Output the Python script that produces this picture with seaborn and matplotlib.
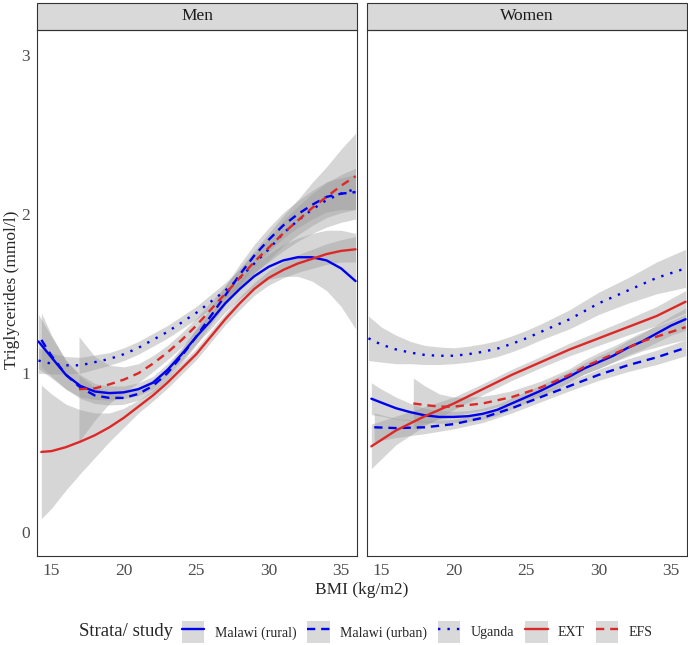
#!/usr/bin/env python
# coding: utf-8

import numpy as np
import pandas as pd
import matplotlib
matplotlib.use("Agg")
import matplotlib.pyplot as plt
import seaborn as sns
from matplotlib.patches import Patch, Rectangle
from matplotlib.lines import Line2D

# =============================================================================
# DATA — smoothed triglyceride curves (x = BMI, y = TG,
# hw = half-width of the grey confidence band)
# =============================================================================
STUDIES = ["Malawi (rural)", "Malawi (urban)", "Uganda", "EXT", "EFS"]
PANELS  = ["Men", "Women"]

# ---- Men --------------------------------------------------------------------
men_rural_x  = [14.1, 15, 16, 17, 18, 19, 20, 21, 22, 23, 24, 25, 26, 27, 28, 29, 30, 31, 32, 33, 34, 35, 36]
men_rural_y  = [1.20, 1.10, 0.99, 0.92, 0.885, 0.875, 0.88, 0.90, 0.94, 1.02, 1.12, 1.23, 1.33, 1.44, 1.53, 1.61, 1.67, 1.71, 1.73, 1.73, 1.71, 1.66, 1.58]
men_rural_hw = [0.17, 0.13, 0.09, 0.07, 0.05, 0.045, 0.04, 0.04, 0.04, 0.04, 0.04, 0.045, 0.05, 0.055, 0.06, 0.07, 0.08, 0.10, 0.12, 0.15, 0.19, 0.24, 0.30]

men_urban_x  = [14.3, 15, 16, 17, 18, 19, 20, 21, 22, 23, 24, 25, 26, 27, 28, 29, 30, 31, 32, 33, 34, 35, 36]
men_urban_y  = [1.21, 1.11, 0.99, 0.91, 0.86, 0.845, 0.845, 0.87, 0.92, 1.00, 1.11, 1.23, 1.36, 1.49, 1.62, 1.74, 1.84, 1.93, 2.00, 2.06, 2.11, 2.13, 2.14]
men_urban_hw = [0.17, 0.13, 0.09, 0.07, 0.05, 0.045, 0.04, 0.04, 0.04, 0.04, 0.045, 0.05, 0.055, 0.06, 0.065, 0.07, 0.075, 0.08, 0.085, 0.09, 0.095, 0.10, 0.11]

men_uganda_x  = [14.1, 15, 16, 17, 18, 19, 20, 21, 22, 23, 24, 25, 26, 27, 28, 29, 30, 31, 32, 33, 34, 35, 36]
men_uganda_y  = [1.08, 1.06, 1.05, 1.05, 1.07, 1.09, 1.12, 1.16, 1.21, 1.26, 1.32, 1.38, 1.45, 1.52, 1.60, 1.69, 1.78, 1.88, 1.96, 2.03, 2.09, 2.13, 2.16]
men_uganda_hw = [0.08, 0.065, 0.055, 0.05, 0.045, 0.04, 0.04, 0.04, 0.04, 0.04, 0.04, 0.04, 0.045, 0.05, 0.055, 0.06, 0.07, 0.08, 0.09, 0.10, 0.11, 0.12, 0.13]

men_ext_x  = [14.3, 15, 16, 17, 18, 19, 20, 21, 22, 23, 24, 25, 26, 27, 28, 29, 30, 31, 32, 33, 34, 35, 36]
men_ext_y  = [0.505, 0.51, 0.535, 0.57, 0.61, 0.66, 0.72, 0.79, 0.86, 0.94, 1.03, 1.12, 1.23, 1.34, 1.44, 1.53, 1.60, 1.65, 1.69, 1.72, 1.75, 1.77, 1.78]
men_ext_hw = [0.42, 0.36, 0.27, 0.20, 0.14, 0.09, 0.06, 0.04, 0.035, 0.035, 0.035, 0.035, 0.035, 0.035, 0.04, 0.04, 0.045, 0.05, 0.055, 0.06, 0.065, 0.07, 0.08]

men_efs_x  = [16.9, 18, 19, 20, 21, 22, 23, 24, 25, 26, 27, 28, 29, 30, 31, 32, 33, 34, 35, 36]
men_efs_y  = [0.90, 0.905, 0.93, 0.96, 1.00, 1.06, 1.13, 1.21, 1.30, 1.40, 1.50, 1.60, 1.70, 1.79, 1.88, 1.96, 2.04, 2.11, 2.18, 2.24]
men_efs_hw = [0.33, 0.20, 0.12, 0.08, 0.06, 0.05, 0.045, 0.045, 0.045, 0.05, 0.05, 0.06, 0.07, 0.09, 0.11, 0.13, 0.16, 0.19, 0.23, 0.27]

# ---- Women ------------------------------------------------------------------
wom_rural_x  = [14.3, 15, 16, 17, 18, 19, 20, 21, 22, 23, 24, 25, 26, 27, 28, 29, 30, 31, 32, 33, 34, 35, 36]
wom_rural_y  = [0.84, 0.815, 0.78, 0.755, 0.735, 0.725, 0.725, 0.73, 0.745, 0.77, 0.81, 0.85, 0.89, 0.935, 0.98, 1.03, 1.07, 1.11, 1.16, 1.20, 1.25, 1.30, 1.34]
wom_rural_hw = [0.10, 0.085, 0.07, 0.055, 0.045, 0.04, 0.035, 0.035, 0.035, 0.035, 0.035, 0.035, 0.035, 0.035, 0.035, 0.035, 0.04, 0.04, 0.045, 0.05, 0.055, 0.06, 0.07]

wom_urban_x  = [14.5, 16, 18, 20, 22, 24, 26, 28, 30, 32, 34, 36]
wom_urban_y  = [0.66, 0.655, 0.66, 0.68, 0.72, 0.78, 0.85, 0.92, 0.99, 1.05, 1.10, 1.16]
wom_urban_hw = [0.09, 0.06, 0.04, 0.03, 0.03, 0.03, 0.03, 0.03, 0.035, 0.04, 0.045, 0.05]

wom_uganda_x  = [14.1, 15, 16, 17, 18, 19, 20, 21, 22, 23, 24, 25, 26, 27, 28, 29, 30, 31, 32, 33, 34, 35, 36]
wom_uganda_y  = [1.22, 1.18, 1.15, 1.13, 1.115, 1.11, 1.11, 1.12, 1.135, 1.155, 1.185, 1.22, 1.26, 1.30, 1.34, 1.39, 1.44, 1.48, 1.52, 1.56, 1.60, 1.63, 1.66]
wom_uganda_hw = [0.14, 0.11, 0.09, 0.07, 0.06, 0.055, 0.05, 0.05, 0.05, 0.05, 0.05, 0.05, 0.05, 0.055, 0.06, 0.065, 0.07, 0.075, 0.08, 0.09, 0.10, 0.11, 0.12]

wom_ext_x  = [14.3, 16, 18, 20, 22, 24, 26, 28, 30, 32, 34, 36]
wom_ext_y  = [0.54, 0.64, 0.73, 0.81, 0.90, 0.99, 1.07, 1.15, 1.22, 1.29, 1.36, 1.45]
wom_ext_hw = [0.14, 0.09, 0.06, 0.04, 0.035, 0.035, 0.035, 0.04, 0.045, 0.05, 0.06, 0.07]

wom_efs_x  = [17.2, 18, 19, 20, 21, 22, 23, 24, 25, 26, 27, 28, 29, 30, 31, 32, 33, 34, 35, 36]
wom_efs_y  = [0.81, 0.80, 0.79, 0.79, 0.80, 0.81, 0.83, 0.85, 0.88, 0.91, 0.95, 0.99, 1.04, 1.08, 1.12, 1.16, 1.20, 1.23, 1.26, 1.29]
wom_efs_hw = [0.16, 0.12, 0.08, 0.06, 0.05, 0.045, 0.04, 0.04, 0.04, 0.04, 0.04, 0.04, 0.045, 0.05, 0.05, 0.055, 0.06, 0.065, 0.07, 0.08]

X_TICKS = [15, 20, 25, 30, 35]
Y_TICKS = [0, 1, 2, 3]

# =============================================================================
# LONG TABLE
# =============================================================================
curves = {
    ("Men", "Malawi (rural)"):   (men_rural_x, men_rural_y, men_rural_hw),
    ("Men", "Malawi (urban)"):   (men_urban_x, men_urban_y, men_urban_hw),
    ("Men", "Uganda"):           (men_uganda_x, men_uganda_y, men_uganda_hw),
    ("Men", "EXT"):              (men_ext_x, men_ext_y, men_ext_hw),
    ("Men", "EFS"):              (men_efs_x, men_efs_y, men_efs_hw),
    ("Women", "Malawi (rural)"): (wom_rural_x, wom_rural_y, wom_rural_hw),
    ("Women", "Malawi (urban)"): (wom_urban_x, wom_urban_y, wom_urban_hw),
    ("Women", "Uganda"):         (wom_uganda_x, wom_uganda_y, wom_uganda_hw),
    ("Women", "EXT"):            (wom_ext_x, wom_ext_y, wom_ext_hw),
    ("Women", "EFS"):            (wom_efs_x, wom_efs_y, wom_efs_hw),
}
frames = []
for (sex, study), (x, y, hw) in curves.items():
    frames.append(pd.DataFrame({"sex": sex, "study": study, "bmi": x, "tg": y, "hw": hw}))
df = pd.concat(frames, ignore_index=True)
df["lo"] = df["tg"] - df["hw"]
df["hi"] = df["tg"] + df["hw"]

# =============================================================================
# STYLE
# =============================================================================
BLUE = "#0000F0"
RED  = "#DD2828"
COLORS = {"Malawi (rural)": BLUE, "Malawi (urban)": BLUE, "Uganda": BLUE,
          "EXT": RED, "EFS": RED}
LSTYLE = {"Malawi (rural)": "-", "Malawi (urban)": (0, (3.5, 2.5)),
          "Uganda": (0, (1, 3)), "EXT": "-", "EFS": (0, (3.5, 2.5))}
LW = 1.7

sns.set_style("white")
plt.rcParams["font.family"] = ["Liberation Serif", "DejaVu Serif"]

W, H = 688, 645
fig = plt.figure(figsize=(W / 100, H / 100), dpi=100)
panel_left = {"Men": 37, "Women": 367}
panel_w = 320
top_px, bot_px = 30, 556

axes = {}
for sex in PANELS:
    ax = fig.add_axes([panel_left[sex] / W, (H - bot_px) / H,
                       panel_w / W, (bot_px - top_px) / H])
    axes[sex] = ax
    sub = df[df["sex"] == sex]
    # ggplot draws ribbon + line per group, in group order
    for study in STUDIES:
        g = sub[sub["study"] == study]
        ax.fill_between(g["bmi"], g["lo"], g["hi"], color="#999999",
                        alpha=0.4, linewidth=0)
        sns.lineplot(data=g, x="bmi", y="tg", color=COLORS[study],
                     linestyle=LSTYLE[study], linewidth=LW, ax=ax,
                     estimator=None, sort=False)
    ax.set_xlim(14.0, 36.1)
    ax.set_ylim(-0.15, 3.16)
    ax.set_xticks(X_TICKS)
    ax.set_yticks(Y_TICKS)
    ax.set_xlabel("")
    ax.set_ylabel("")
    ax.tick_params(axis="both", length=3, width=0.8, color="#333333",
                   labelsize=12.5, labelcolor="#4D4D4D", pad=2, direction="out")
    for sp in ax.spines.values():
        sp.set_color("#333333")
        sp.set_linewidth(0.8)
    # facet strip
    strip_h = 27 / (bot_px - top_px)
    ax.add_patch(Rectangle((0, 1), 1, strip_h, transform=ax.transAxes,
                           facecolor="#D9D9D9", edgecolor="#333333",
                           linewidth=0.8, clip_on=False))
    ax.text(0.5, 1 + strip_h / 2, sex, transform=ax.transAxes, ha="center",
            va="center", fontsize=12.5, color="#1A1A1A")

axes["Women"].tick_params(axis="y", left=False, labelleft=False)

fig.text(362 / W, 1 - 590 / H, "BMI (kg/m2)", ha="center", va="center",
         fontsize=12.5)
fig.text(12 / W, 1 - 290 / H, "Triglycerides (mmol/l)", ha="center",
         va="center", rotation=90, fontsize=12.5)

# legend
leg_y = 1 - 632 / H
fig.text(79 / W, leg_y, "Strata/ study", ha="left", va="center", fontsize=13.5)
handles = [(Patch(facecolor="#D9D9D9", edgecolor="none"),
            Line2D([], [], color=COLORS[s], linestyle=LSTYLE[s], linewidth=LW))
           for s in STUDIES]
fig.legend(handles, STUDIES, loc="center left", bbox_to_anchor=(182 / W, leg_y),
           ncol=5, frameon=False, fontsize=10, handlelength=1.6,
           handleheight=2.0, handletextpad=0.75, columnspacing=0.8,
           borderpad=0, borderaxespad=0)

fig.savefig("out.png", dpi=100)
